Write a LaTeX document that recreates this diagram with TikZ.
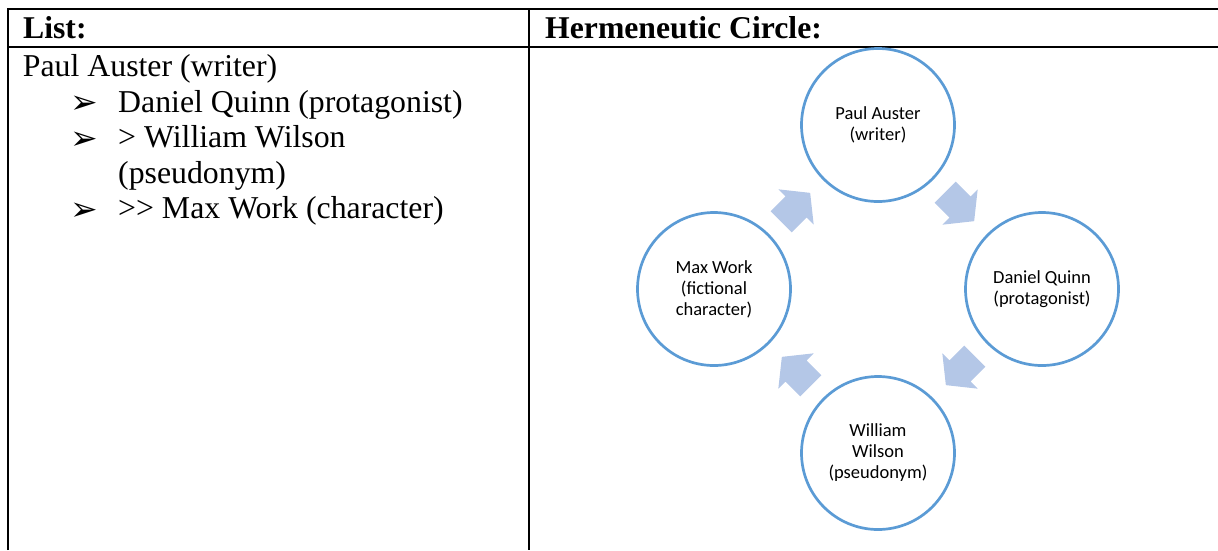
\documentclass[tikz,border=0pt]{standalone}
\usepackage{fontspec}
\setmainfont{Liberation Serif}
\newfontfamily\calfont{Carlito}
\newfontfamily\symfont{DejaVu Sans}
\usetikzlibrary{calc}
\definecolor{ringblue}{HTML}{5B9BD5}
\definecolor{arrowblue}{HTML}{B4C7E7}
\begin{document}
\begin{tikzpicture}[x=1pt,y=-1pt,
  rule/.style={line width=2pt, black},
  headtxt/.style={anchor=base west, inner sep=0, font=\fontsize{31.7}{36}\selectfont\bfseries},
  listtxt/.style={anchor=base west, inner sep=0, font=\fontsize{31.8}{36}\selectfont},
  bul/.style={anchor=base west, inner sep=0, font=\symfont\fontsize{33}{33}\selectfont},
  ring/.style={circle, draw=ringblue, line width=2.7pt, minimum size=153pt, inner sep=0, align=center, font=\calfont\fontsize{18.5}{21}\selectfont},
  blockarrow/.pic={\fill[arrowblue] (-21,-15) -- (0,-15) -- (0,-25) -- (20,0) -- (0,25) -- (0,15) -- (-21,15) -- cycle;}
]
\useasboundingbox (0,0) rectangle (1218,550);
% table rules
\draw[rule] (7.5,550) -- (7.5,9) -- (1218,9);
\draw[rule] (7.5,46.7) -- (1218,46.7);
\draw[rule] (529,9) -- (529,550);
% headers
\node[headtxt] (h1) at (23,38.3) {List:};
\node[headtxt] (h2) at (545,38.3) {Hermeneutic Circle:};
% list
\node[listtxt] (l0) at (22.7,76.7) {Paul Auster (writer)};
\node[bul] (b1) at (70,113.5) {➢};
\node[listtxt] (l1) at (118,112.2) {Daniel Quinn (protagonist)};
\node[bul] (b2) at (70,149) {➢};
\node[listtxt] (l2) at (118,147.7) {> William Wilson};
\node[listtxt] (l3) at (118,183.2) {(pseudonym)};
\node[bul] (b3) at (70,220) {➢};
\node[listtxt] (l4) at (118,218.7) {>\kern0pt> Max Work (character)};
% cycle
\node[ring] (pa) at (878,125) {Paul Auster\\(writer)};
\node[ring] (dq) at (1042,289) {Daniel Quinn\\(protagonist)};
\node[ring] (ww) at (878,453) {William\\Wilson\\(pseudonym)};
\node[ring] (mw) at (714,289) {Max Work\\(fictional\\character)};
\pic[rotate=-45] (a1) at ($(pa)!0.5!(dq)$) {blockarrow};
\pic[rotate=-135] (a2) at ($(dq)!0.5!(ww)$) {blockarrow};
\pic[rotate=135] (a3) at ($(ww)!0.5!(mw)$) {blockarrow};
\pic[rotate=45] (a4) at ($(mw)!0.5!(pa)$) {blockarrow};
\end{tikzpicture}
\end{document}
